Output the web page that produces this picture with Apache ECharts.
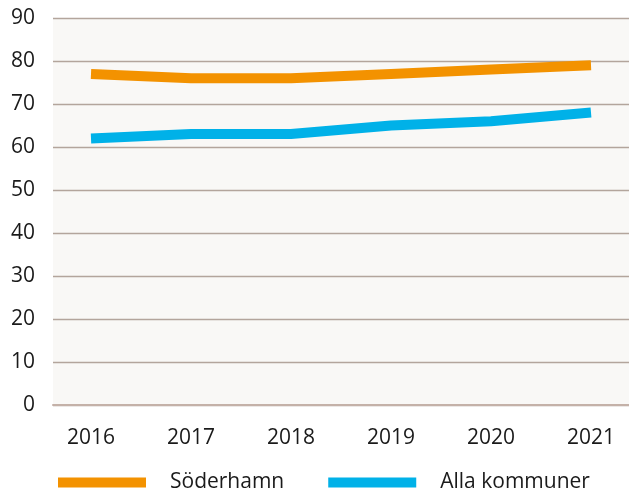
<!DOCTYPE html>
<html>
<head>
<meta charset="utf-8">
<script src="https://cdn.jsdelivr.net/npm/echarts@6/dist/echarts.min.js"></script>
<style>
  html, body { margin: 0; padding: 0; background: #fff; }
  #chart { width: 629px; height: 494px; }
</style>
</head>
<body>
<div id="chart"></div>
<script>
/* ===== data ===== */
const years = [2016, 2017, 2018, 2019, 2020, 2021];
const soderhamn = [77, 76, 76, 77, 78, 79];
const allaKommuner = [62, 63, 63, 65, 66, 68];
const seriesNames = ['Söderhamn', 'Alla kommuner'];

const font = '"Open Sans", "Noto Sans", sans-serif';
const pairs = arr => years.map((y, i) => [y, arr[i]]);

const chart = echarts.init(document.getElementById('chart'));
chart.setOption({
    backgroundColor: '#fff',
    animation: false,
    textStyle: { fontFamily: font, color: '#1a1a1a' },
    grid: {
        left: 53, right: 0, top: 18, bottom: 89,
        show: true, backgroundColor: '#f9f8f6', borderWidth: 0
    },
    legend: {
        top: 472, left: 58, padding: 0,
        icon: 'rect', itemWidth: 88, itemHeight: 10, itemGap: 44,
        textStyle: { fontSize: 21, color: '#1a1a1a', fontFamily: font, padding: [0, 0, 0, 19] },
        data: seriesNames
    },
    xAxis: {
        type: 'value',
        min: 2015.62, max: 2021.38,
        splitLine: { show: false },
        axisTick: { show: false },
        axisLine: { lineStyle: { color: '#c4b1a8', width: 2 } },
        axisLabel: {
            customValues: years,
            formatter: v => String(v),
            margin: 23, fontSize: 21, color: '#1a1a1a', fontFamily: font
        }
    },
    yAxis: {
        type: 'value',
        min: 0, max: 90, interval: 10,
        axisLine: { show: false },
        axisTick: { show: false },
        splitLine: { lineStyle: { color: '#b3a59c', width: 1.3 } },
        axisLabel: { margin: 18, fontSize: 21, color: '#1a1a1a', fontFamily: font }
    },
    series: [
        {
            name: seriesNames[0], type: 'line', data: pairs(soderhamn),
            showSymbol: false, color: '#f39200',
            lineStyle: { width: 10, cap: 'butt', color: '#f39200' }
        },
        {
            name: seriesNames[1], type: 'line', data: pairs(allaKommuner),
            showSymbol: false, color: '#00b1e8',
            lineStyle: { width: 10, cap: 'butt', color: '#00b1e8' }
        }
    ]
});
</script>
</body>
</html>
